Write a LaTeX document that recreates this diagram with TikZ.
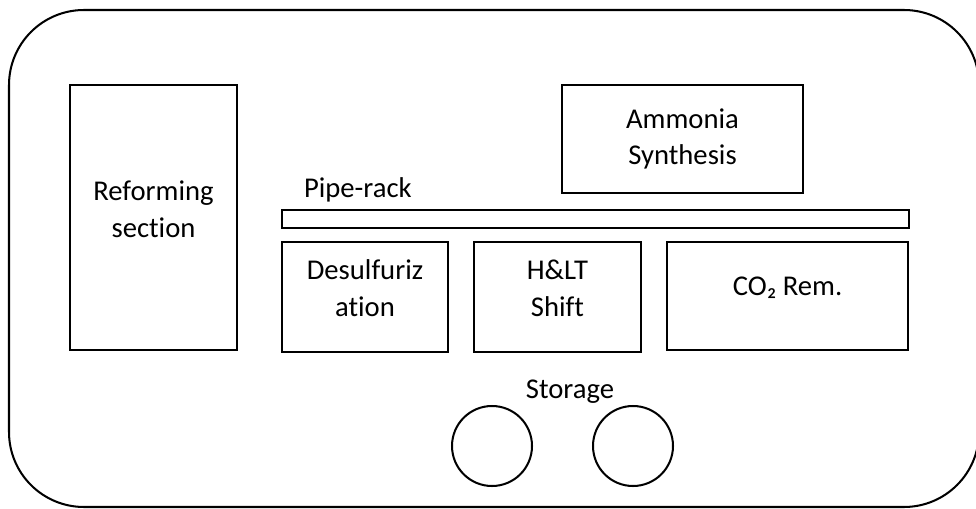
\documentclass[tikz,border=0pt]{standalone}
\usepackage{fontspec}
\setmainfont{Carlito}[Ligatures=NoCommon]
\begin{document}
\begin{tikzpicture}[line width=1.15pt,
  unit/.style={draw, rectangle, inner sep=0pt},
  tank/.style={draw, circle, minimum size=1.6cm, inner sep=0pt},
  tag/.style={align=center, font=\fontsize{16.3}{21}\selectfont, inner sep=0pt}]
\useasboundingbox (0,0) rectangle (19.52,10.16);
\draw[rounded corners=1.5cm] (0.18,0.02) rectangle (19.58,9.96);
\node[unit, minimum width=3.34cm, minimum height=5.30cm] (reform) at (3.07,5.81) {};
\node[tag, yshift=0.16cm] (reformtxt) at (reform.center) {Reforming\\section};
\node[unit, minimum width=4.82cm, minimum height=2.16cm] (ammonia) at (13.65,7.38) {};
\node[tag] (ammoniatxt) at (ammonia.center) {Ammonia\\Synthesis};
\node[unit, minimum width=12.54cm, minimum height=0.37cm] (rack) at (11.91,5.78) {};
\node[tag, anchor=west] (racktxt) at (6.06,6.36) {Pipe-rack};
\node[unit, minimum width=3.32cm, minimum height=2.20cm] (desulf) at (7.30,4.22) {};
\node[tag, yshift=0.17cm] (desulftxt) at (desulf.center) {Desulfuriz\\ation};
\node[unit, minimum width=3.34cm, minimum height=2.20cm] (shift) at (11.15,4.22) {};
\node[tag, yshift=0.17cm] (shifttxt) at (shift.center) {H\&LT\\Shift};
\node[unit, minimum width=4.82cm, minimum height=2.16cm] (co2) at (15.75,4.24) {};
\node[tag, yshift=0.17cm] (co2txt) at (co2.center) {CO₂ Rem.};
\node[tag] (storetxt) at (11.40,2.32) {Storage};
\node[tank] (tankA) at (9.84,1.24) {};
\node[tank] (tankB) at (12.66,1.24) {};
\end{tikzpicture}
\end{document}
